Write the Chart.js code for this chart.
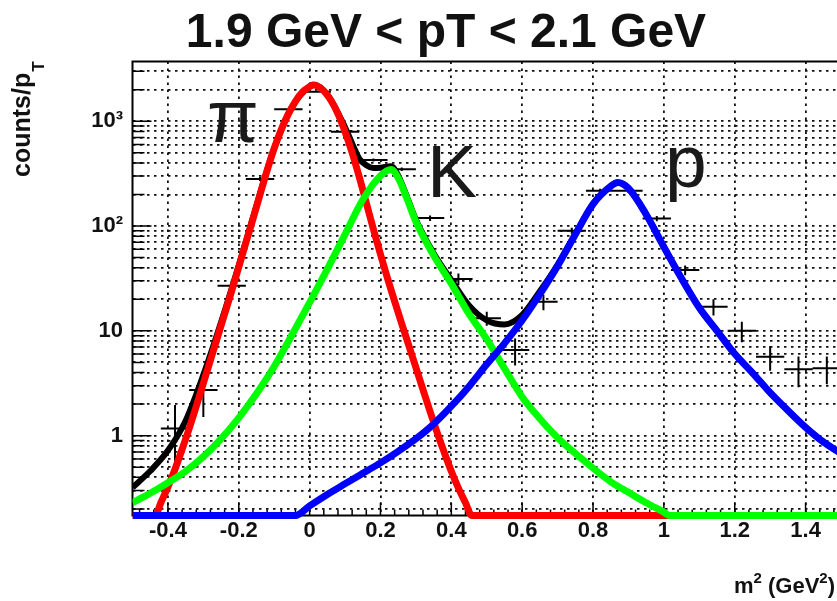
<!DOCTYPE html>
<html>
<head>
<meta charset="utf-8">
<title>m2 fit, 1.9 &lt; pT &lt; 2.1 GeV</title>
<script src="https://cdn.jsdelivr.net/npm/chart.js@4.4.1/dist/chart.umd.min.js"></script>
<style>
  html, body { margin: 0; padding: 0; background: #fff; overflow: hidden; }
  #box { position: relative; width: 850px; height: 601px; }
</style>
</head>
<body>
<div id="box"><canvas id="m2Chart" width="850" height="601"></canvas></div>
<script>
// measured m^2 histogram: bin centres, counts/pT and their errors
const binCenters = [-0.38, -0.30, -0.22, -0.14, -0.06, 0.02, 0.10, 0.18, 0.26, 0.34, 0.42, 0.50,
                    0.58, 0.66, 0.74, 0.82, 0.90, 0.98, 1.06, 1.14, 1.22, 1.30, 1.38, 1.46];
const counts = [1.17, 2.72, 26.9, 281, 1298, 1914, 794, 426, 348, 119, 31.2, 13.2,
                6.56, 18.9, 90.2, 217, 217, 118, 38.0, 17.0, 10.0, 5.66, 4.29, 4.39];
const countErrors = [0.79, 1.21, 3.5, 12, 25, 30, 20, 14, 13, 7, 4, 2.0,
                     1.9, 3.2, 6, 10, 10, 7, 4, 3, 2.2, 1.5, 1.4, 1.3];
const binHalfWidth = 0.04;

// fit components (pion, kaon, proton) and the total
const pionX = [-0.5, -0.436, -0.42, -0.40, -0.38, -0.36, -0.34, -0.32, -0.30, -0.28, -0.26, -0.24,
               -0.22, -0.20, -0.18, -0.16, -0.14, -0.12, -0.10, -0.08, -0.06, -0.04, -0.02, 0.00,
               0.01, 0.02, 0.04, 0.06, 0.08, 0.10, 0.12, 0.14, 0.16, 0.18, 0.20, 0.22, 0.24, 0.26,
               0.28, 0.30, 0.32, 0.34, 0.36, 0.38, 0.40, 0.42, 0.44, 0.458, 1.5];
const pionY = [0.173, 0.173, 0.229, 0.324, 0.479, 0.741, 1.17, 1.91, 3.16, 5.25, 8.71, 14.5,
               24.0, 40.7, 69.2, 117, 200, 339, 550, 832, 1175, 1549, 1905, 2138,
               2213, 2188, 1950, 1585, 1175, 794, 501, 295, 166, 93.3, 53.7, 31.6, 19.1, 11.7,
               7.24, 4.47, 2.75, 1.70, 1.07, 0.692, 0.457, 0.316, 0.229, 0.173, 0.173];

const kaonX = [-0.5, -0.45, -0.40, -0.35, -0.30, -0.25, -0.20, -0.15, -0.10, -0.05, 0.00, 0.05,
               0.10, 0.15, 0.20, 0.23, 0.25, 0.275, 0.30, 0.35, 0.40, 0.45, 0.50, 0.55, 0.60,
               0.65, 0.70, 0.75, 0.80, 0.85, 0.90, 0.95, 1.00, 1.017, 1.5];
const kaonY = [0.229, 0.282, 0.355, 0.457, 0.631, 0.933, 1.48, 2.51, 4.57, 9.12, 18.6, 38.9,
               83.2, 178, 302, 347, 288, 182, 110, 52.5, 28.2, 14.5, 8.32, 4.37, 2.34,
               1.45, 0.955, 0.676, 0.490, 0.363, 0.288, 0.229, 0.186, 0.173, 0.173];

const protonX = [-0.5, -0.04, 0.00, 0.05, 0.10, 0.15, 0.20, 0.25, 0.30, 0.35, 0.40, 0.45, 0.50,
                 0.55, 0.60, 0.65, 0.70, 0.75, 0.80, 0.85, 0.87, 0.90, 0.95, 1.00, 1.05, 1.10,
                 1.15, 1.20, 1.25, 1.30, 1.35, 1.40, 1.45, 1.50];
const protonY = [0.173, 0.173, 0.214, 0.275, 0.347, 0.437, 0.550, 0.708, 0.933, 1.29, 1.91, 2.95, 4.79,
                 7.59, 12.6, 22.4, 41.7, 83.2, 162, 240, 260, 229, 129, 63.1, 31.6, 16.6,
                 10.0, 6.03, 3.98, 2.57, 1.74, 1.20, 0.871, 0.676];

const totalX = [-0.5, -0.45, -0.40, -0.35, -0.30, -0.25, -0.20, -0.15, -0.10, -0.05, 0.00, 0.01,
                0.05, 0.10, 0.12, 0.14, 0.16, 0.18, 0.20, 0.23, 0.25, 0.275, 0.30, 0.35, 0.40,
                0.45, 0.50, 0.55, 0.60, 0.65, 0.70, 0.75, 0.80, 0.85, 0.87, 0.90, 0.95, 1.00,
                1.05, 1.10, 1.15, 1.20, 1.25, 1.30, 1.35, 1.40, 1.45, 1.50];
const totalY = [0.32, 0.46, 0.72, 1.39, 3.8, 12.1, 42.2, 157, 555, 1360, 2157, 2235,
                1800, 877, 613, 440, 380, 358, 360, 372, 303, 190, 115, 55.1, 30.6,
                17.5, 12.6, 11.5, 14.2, 23.9, 42.7, 83.9, 162.5, 240.4, 260.3, 229.3, 129.2, 63.3,
                31.6, 16.6, 10.0, 6.03, 3.98, 2.57, 1.74, 1.20, 0.871, 0.676];

// axes
const xTickValues = [-0.4, -0.2, 0, 0.2, 0.4, 0.6, 0.8, 1, 1.2, 1.4];
const xTickLabels = ['-0.4', '-0.2', '0', '0.2', '0.4', '0.6', '0.8', '1', '1.2', '1.4'];
const yTickValues = [1, 10, 100, 1000];
const yTickLabels = ['1', '10', '10²', '10³'];
const yGridValues = [0.2, 0.3, 0.4, 0.5, 0.6, 0.7, 0.8, 0.9,
                     1, 2, 3, 4, 5, 6, 7, 8, 9,
                     10, 20, 30, 40, 50, 60, 70, 80, 90,
                     100, 200, 300, 400, 500, 600, 700, 800, 900,
                     1000, 2000, 3000];

// particle names placed next to their peaks (data coordinates)
const particleNames = ['π', 'K', 'p'];
const particleX = [-0.29, 0.331, 1.003];
const particleY = [640, 189, 236];

const Y_MIN = 0.173;
const Y_MAX = 3715;
const FONT = '"Liberation Sans", Arial, Helvetica, sans-serif';
const CANVAS_H = 601;
const PLOT_LEFT = 132.5;
const PLOT_BOTTOM = 515.5;

const toPoints = (xs, ys) => xs.map((x, i) => ({ x: x, y: ys[i] }));

function curve(xs, ys, color, width, order) {
    return {
        data: toPoints(xs, ys),
        borderColor: color,
        borderWidth: width,
        pointRadius: 0,
        fill: false,
        cubicInterpolationMode: 'monotone',
        borderJoinStyle: 'round',
        clip: { left: 0, top: 0, right: 10, bottom: 8 },
        order: order
    };
}

// draws text pieces with superscript / subscript shifts
function drawPieces(ctx, pieces, x, y, size) {
    let cx = x;
    pieces.forEach(([text, shift]) => {
        const s = shift ? Math.round(size * 0.68) : size;
        ctx.font = 'bold ' + s + 'px ' + FONT;
        ctx.fillText(text, cx, y + shift);
        cx += ctx.measureText(text).width;
    });
}
function piecesWidth(ctx, pieces, size) {
    let w = 0;
    pieces.forEach(([text, shift]) => {
        const s = shift ? Math.round(size * 0.68) : size;
        ctx.font = 'bold ' + s + 'px ' + FONT;
        w += ctx.measureText(text).width;
    });
    return w;
}

const rootStyle = {
    id: 'rootStyle',
    beforeDatasetsDraw(chart) {
        const { ctx, chartArea: a, scales: { x, y } } = chart;
        ctx.save();

        // frame
        ctx.strokeStyle = '#000';
        ctx.lineWidth = 2;
        ctx.strokeRect(a.left, a.top, a.right - a.left, a.bottom - a.top);

        // inner tick marks
        ctx.lineWidth = 1.5;
        ctx.beginPath();
        yGridValues.forEach(v => {
            const py = y.getPixelForValue(v);
            const len = yTickValues.includes(v) ? 19 : 12;
            ctx.moveTo(a.left, py);
            ctx.lineTo(a.left + len, py);
        });
        for (let k = -12; k <= 37; k++) {
            const px = x.getPixelForValue(k * 0.04);
            const len = (k % 5 === 0) ? 13 : 6;
            ctx.moveTo(px, a.bottom);
            ctx.lineTo(px, a.bottom - len);
        }
        ctx.stroke();

        // histogram points with error bars
        ctx.beginPath();
        ctx.rect(a.left, a.top, a.right - a.left, a.bottom - a.top);
        ctx.clip();
        ctx.lineWidth = 2;
        ctx.beginPath();
        binCenters.forEach((c, i) => {
            const v = counts[i], e = countErrors[i];
            const px = x.getPixelForValue(c);
            const py = y.getPixelForValue(v);
            ctx.moveTo(x.getPixelForValue(c - binHalfWidth), py);
            ctx.lineTo(x.getPixelForValue(c + binHalfWidth), py);
            ctx.moveTo(px, y.getPixelForValue(v + e));
            ctx.lineTo(px, y.getPixelForValue(Math.max(v - e, Y_MIN)));
        });
        ctx.stroke();
        ctx.restore();
    },
    afterDatasetsDraw(chart) {
        const { ctx, scales: { x, y } } = chart;
        ctx.save();
        ctx.fillStyle = '#1a1a1a';
        ctx.font = '75px ' + FONT;
        ctx.textAlign = 'left';
        ctx.textBaseline = 'alphabetic';
        particleNames.forEach((name, i) => {
            ctx.fillText(name, x.getPixelForValue(particleX[i]), y.getPixelForValue(particleY[i]));
        });
        ctx.restore();
    },
    afterDraw(chart) {
        const { ctx } = chart;
        ctx.save();
        ctx.fillStyle = '#111';
        ctx.textBaseline = 'alphabetic';

        // title
        ctx.textAlign = 'center';
        ctx.font = 'bold 48px ' + FONT;
        ctx.fillText('1.9 GeV < pT < 2.1 GeV', 446, 47);

        // x title, right aligned under the axis
        ctx.textAlign = 'left';
        const xt = [['m', 0], ['2', -10], [' (GeV', 0], ['2', -10], [')', 0]];
        drawPieces(ctx, xt, 835 - piecesWidth(ctx, xt, 22), 593, 22);

        // y title, rotated
        ctx.translate(30, 177);
        ctx.rotate(-Math.PI / 2);
        ctx.font = 'bold 25px ' + FONT;
        ctx.fillText('counts/p', 0, 0);
        const w = ctx.measureText('counts/p').width;
        ctx.font = 'bold 17px ' + FONT;
        ctx.fillText('T', w + 1, 14);
        ctx.restore();
    }
};

const gridStyle = { color: '#111', lineWidth: 1.8, drawTicks: false };

new Chart(document.getElementById('m2Chart'), {
    type: 'line',
    data: {
        datasets: [
            curve(protonX, protonY, '#0000ff', 7, 0),
            curve(kaonX, kaonY, '#00ff00', 7, 1),
            curve(pionX, pionY, '#ff0000', 7, 2),
            curve(totalX, totalY, '#000000', 6, 3)
        ]
    },
    options: {
        responsive: false,
        devicePixelRatio: 1,
        animation: false,
        layout: { padding: { top: 61.5, right: 9, bottom: 0, left: 0 } },
        plugins: {
            legend: { display: false },
            title: { display: false },
            tooltip: { enabled: false }
        },
        scales: {
            x: {
                type: 'linear',
                min: -0.5,
                max: 1.5,
                afterBuildTicks: scale => { scale.ticks = xTickValues.map(v => ({ value: v })); },
                afterFit: scale => { scale.height = CANVAS_H - PLOT_BOTTOM; },
                ticks: {
                    autoSkip: false,
                    maxRotation: 0,
                    padding: 2,
                    color: '#111',
                    font: { family: FONT, size: 22, weight: 'bold' },
                    callback: (v, i) => xTickLabels[i]
                },
                grid: gridStyle,
                border: { display: false, dash: [2.5, 4.5] }
            },
            y: {
                type: 'logarithmic',
                min: Y_MIN,
                max: Y_MAX,
                afterBuildTicks: scale => { scale.ticks = yGridValues.map(v => ({ value: v })); },
                afterFit: scale => { scale.width = PLOT_LEFT; },
                ticks: {
                    autoSkip: false,
                    padding: 9.5,
                    color: '#111',
                    font: { family: FONT, size: 22, weight: 'bold' },
                    callback: v => {
                        const i = yTickValues.indexOf(v);
                        return i >= 0 ? yTickLabels[i] : '';
                    }
                },
                grid: gridStyle,
                border: { display: false, dash: [2.5, 4.5] }
            }
        }
    },
    plugins: [rootStyle]
});
</script>
</body>
</html>
